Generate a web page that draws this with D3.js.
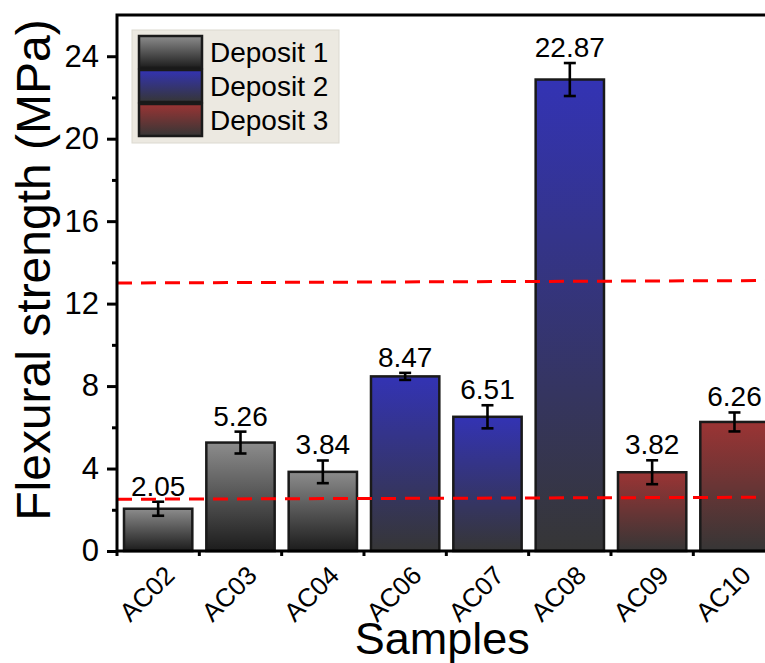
<!DOCTYPE html>
<html>
<head>
<meta charset="utf-8">
<script src="https://cdn.jsdelivr.net/npm/d3@7/dist/d3.min.js"></script>
<style>
  html, body { margin: 0; padding: 0; background: #fff; }
  svg { display: block; }
  text { font-family: "Liberation Sans", Arial, sans-serif; fill: #000; }
</style>
</head>
<body>
<svg id="chart" width="765" height="663"></svg>
<script>
// Flexural strength per sample, grouped by deposit
const samples = ["AC02", "AC03", "AC04", "AC06", "AC07", "AC08", "AC09", "AC10"];
const strength = [2.05, 5.26, 3.84, 8.47, 6.51, 22.87, 3.82, 6.26];
const errors = [0.34, 0.53, 0.55, 0.17, 0.56, 0.80, 0.58, 0.46];
const deposit = [1, 1, 1, 2, 2, 2, 3, 3];
const depositNames = ["Deposit 1", "Deposit 2", "Deposit 3"];
const yMajorTicks = [0, 4, 8, 12, 16, 20, 24];
const yMinorTicks = [2, 6, 10, 14, 18, 22];
// reference lines: value at the left edge and at the right edge
const refLines = [[2.51, 2.61], [13.0, 13.12]];

const depositGradients = {
  1: ["#8c8c8c", "#1c1c1c"],
  2: ["#3333b4", "#363636"],
  3: ["#9b3434", "#363636"]
};

const svg = d3.select("#chart");
const plotLeft = 117, plotTop = 15, plotBottom = 551;
const step = 82.33;
const plotRight = plotLeft + step * samples.length;

const x = d3.scaleBand().domain(samples).range([plotLeft, plotRight]).padding(0);
const y = d3.scaleLinear().domain([0, 26]).range([plotBottom, plotTop]);

// gradients per deposit
const defs = svg.append("defs");
Object.keys(depositGradients).forEach(k => {
  const g = defs.append("linearGradient")
    .attr("id", "grad" + k)
    .attr("x1", 0).attr("y1", 0).attr("x2", 0).attr("y2", 1);
  g.append("stop").attr("offset", "0%").attr("stop-color", depositGradients[k][0]);
  g.append("stop").attr("offset", "100%").attr("stop-color", depositGradients[k][1]);
});

const barW = x.bandwidth() * 0.83;
const data = samples.map((s, i) => ({ s, v: strength[i], e: errors[i], d: deposit[i] }));

// bars
svg.append("g").selectAll("rect").data(data).enter().append("rect")
  .attr("x", d => x(d.s) + (x.bandwidth() - barW) / 2)
  .attr("y", d => y(d.v))
  .attr("width", barW)
  .attr("height", d => y(0) - y(d.v))
  .attr("fill", d => `url(#grad${d.d})`)
  .attr("stroke", "#1a1a1a")
  .attr("stroke-width", 2.5);

// error bars
const eg = svg.append("g").attr("stroke", "#000").attr("stroke-width", 2.6).attr("fill", "none");
data.forEach(d => {
  const cx = x(d.s) + x.bandwidth() / 2;
  eg.append("line").attr("x1", cx).attr("x2", cx).attr("y1", y(d.v + d.e)).attr("y2", y(d.v - d.e));
  eg.append("line").attr("x1", cx - 6).attr("x2", cx + 6).attr("y1", y(d.v + d.e)).attr("y2", y(d.v + d.e));
  eg.append("line").attr("x1", cx - 6).attr("x2", cx + 6).attr("y1", y(d.v - d.e)).attr("y2", y(d.v - d.e));
});

// value labels
svg.append("g").selectAll("text").data(data).enter().append("text")
  .attr("x", d => x(d.s) + x.bandwidth() / 2)
  .attr("y", d => y(d.v + d.e) - 6)
  .attr("text-anchor", "middle")
  .attr("font-size", 28)
  .text(d => d.v.toFixed(2));

// dashed reference lines
svg.append("g").selectAll("line").data(refLines).enter().append("line")
  .attr("x1", plotLeft).attr("x2", plotRight)
  .attr("y1", d => y(d[0])).attr("y2", d => y(d[1]))
  .attr("stroke", "#ff0000").attr("stroke-width", 3)
  .attr("stroke-dasharray", "15,9");

// frame
svg.append("rect")
  .attr("x", plotLeft).attr("y", plotTop)
  .attr("width", plotRight - plotLeft).attr("height", plotBottom - plotTop)
  .attr("fill", "none").attr("stroke", "#000").attr("stroke-width", 3);

// y axis
const yAxis = d3.axisLeft(y).tickValues(yMajorTicks).tickSize(10).tickPadding(8).tickFormat(d3.format("d"));
const yg = svg.append("g").attr("transform", `translate(${plotLeft},0)`).call(yAxis);
yg.select(".domain").remove();
yg.selectAll(".tick line").attr("stroke", "#000").attr("stroke-width", 3);
yg.selectAll(".tick text").attr("font-size", 31).attr("font-family", "Liberation Sans, Arial, sans-serif");
const yMinor = d3.axisLeft(y).tickValues(yMinorTicks).tickSize(5).tickFormat("");
const ymg = svg.append("g").attr("transform", `translate(${plotLeft},0)`).call(yMinor);
ymg.select(".domain").remove();
ymg.selectAll(".tick line").attr("stroke", "#000").attr("stroke-width", 3);

// x axis: tick marks at band edges, labels at band centres
svg.append("g").selectAll("line").data(samples).enter().append("line")
  .attr("x1", d => x(d)).attr("x2", d => x(d))
  .attr("y1", plotBottom).attr("y2", plotBottom + 5)
  .attr("stroke", "#000").attr("stroke-width", 3);
const xAxis = d3.axisBottom(x).tickSize(0).tickPadding(0);
const xg = svg.append("g").attr("transform", `translate(0,${plotBottom})`).call(xAxis);
xg.select(".domain").remove();
xg.selectAll(".tick text")
  .attr("font-size", 26)
  .attr("font-family", "Liberation Sans, Arial, sans-serif")
  .attr("text-anchor", "end")
  .attr("dy", 0)
  .attr("transform", "translate(18,26) rotate(-45)");

// axis titles
svg.append("text")
  .attr("x", (plotLeft + plotRight) / 2 - 4).attr("y", 654)
  .attr("text-anchor", "middle").attr("font-size", 45)
  .text("Samples");
svg.append("text")
  .attr("transform", "translate(50,270) rotate(-90)")
  .attr("text-anchor", "middle").attr("font-size", 48)
  .text("Flexural strength (MPa)");

// legend
const lg = svg.append("g").attr("transform", "translate(132,30)");
lg.append("rect").attr("x", 0).attr("y", 0).attr("width", 207).attr("height", 113)
  .attr("fill", "#ece9e1").attr("stroke", "#dcd9d0").attr("stroke-width", 1);
depositNames.forEach((name, i) => {
  lg.append("rect")
    .attr("x", 7).attr("y", 6 + i * 34).attr("width", 63).attr("height", 32)
    .attr("fill", `url(#grad${i + 1})`).attr("stroke", "#1a1a1a").attr("stroke-width", 2.5);
  lg.append("text")
    .attr("x", 78).attr("y", 6 + i * 34 + 26)
    .attr("font-size", 28)
    .text(name);
});
</script>
</body>
</html>
